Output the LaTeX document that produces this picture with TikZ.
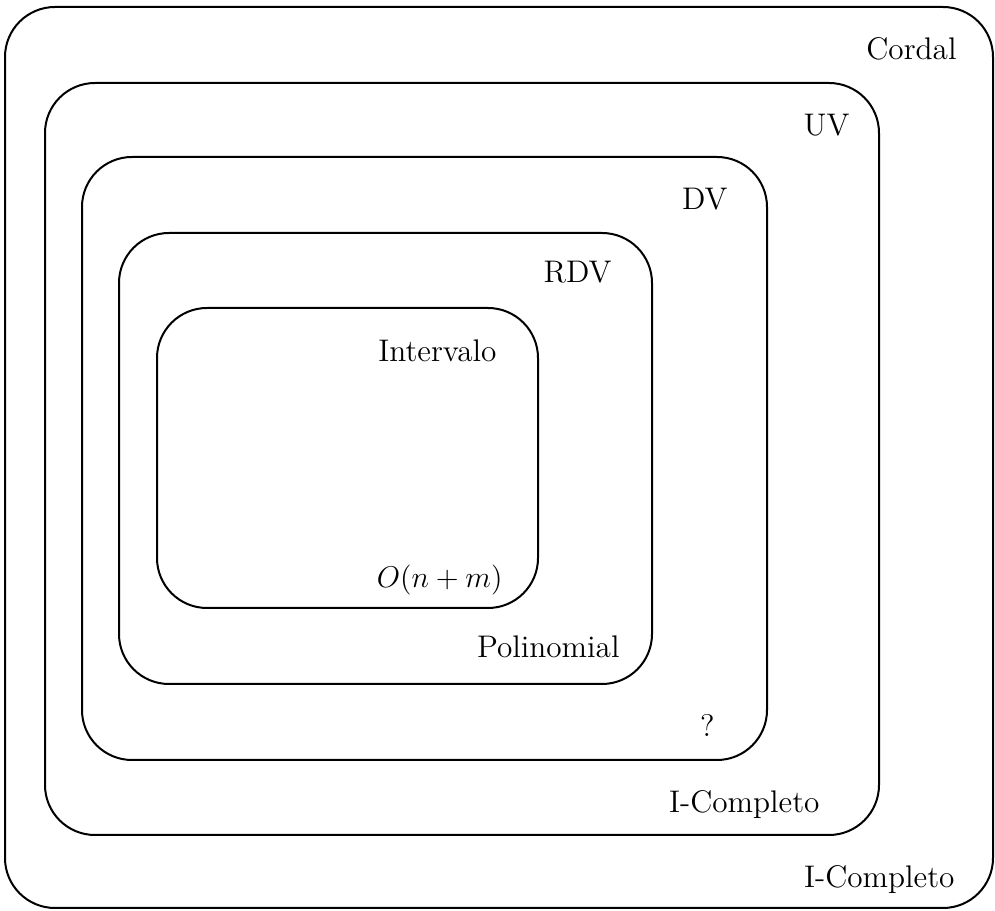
\documentclass[tikz,border=0pt]{standalone}
\begin{document}
\begin{tikzpicture}[x=0.4pt,y=-0.4pt,
  classbox/.style={draw=black,line width=0.8pt,rounded corners=20pt},
  lbl/.style={anchor=base east,inner sep=0pt,font=\fontsize{12.5}{15}\selectfont}]
\useasboundingbox (0,0) rectangle (995,911);
% nested graph classes
\draw[classbox] (5,7) rectangle (993,908);
\draw[classbox] (45,83) rectangle (879,835);
\draw[classbox] (82,157) rectangle (767,760);
\draw[classbox] (119,233) rectangle (652,684);
\draw[classbox] (157,308) rectangle (538,608);
% class names
\node[lbl] (cordal) at (957,60) {Cordal};
\node[lbl] (uv) at (850,136) {UV};
\node[lbl] (dv) at (728,210) {DV};
\node[lbl] (rdv) at (612,283) {RDV};
\node[lbl] (interv) at (497,362) {Intervalo};
% complexities
\node[lbl] (cinterv) at (503,588) {$O(n+m)$};
\node[lbl] (crdv) at (620,658) {Polinomial};
\node[lbl] (cdv) at (715,737) {?};
\node[lbl] (cuv) at (820,813) {I-Completo};
\node[lbl] (ccordal) at (955,888) {I-Completo};
\end{tikzpicture}
\end{document}
